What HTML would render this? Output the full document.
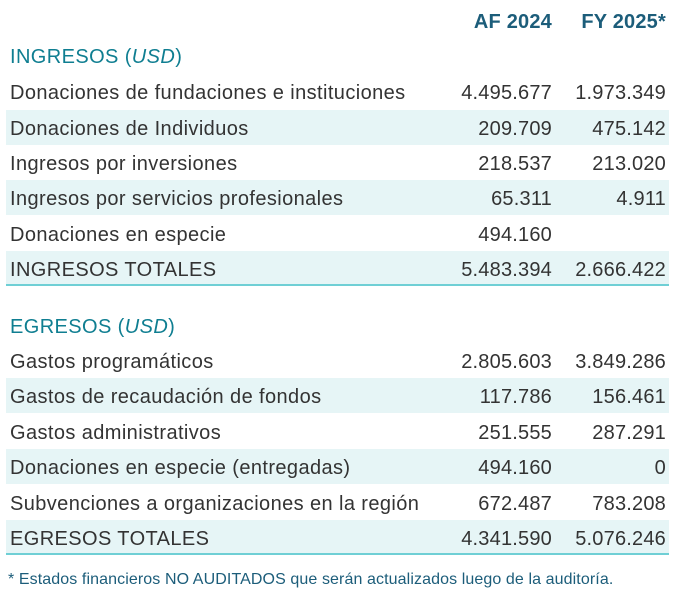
<!DOCTYPE html>
<html><head><meta charset="utf-8"><style>
body{margin:0;width:673px;height:600px;background:#fff;font-family:"Liberation Sans",sans-serif;position:relative;overflow:hidden;color:#333}
.r{position:absolute;left:6px;width:663px;height:35px;font-size:20px;line-height:35px;letter-spacing:0.4px}
.r span{top:2px}
.b{background:#e6f5f6}
.l{position:absolute;left:4px;white-space:nowrap}
.c1{position:absolute;right:117px;letter-spacing:0.2px}
.c2{position:absolute;right:3px;letter-spacing:0.2px}
.h{color:#0f7e91}
.hd{color:#1c5d7a;font-weight:bold}
.t{border-bottom:2px solid #6fcfd5;height:33px}
.fn{position:absolute;left:8px;top:571px;font-size:16px;color:#1c5d7a;letter-spacing:0.1px;white-space:nowrap}
</style></head><body>
<div class="r hd" style="top:3px"><span class="c1">AF 2024</span><span class="c2">FY 2025*</span></div>
<div class="r h" style="top:38px"><span class="l">INGRESOS (<i>USD</i>)</span></div>
<div class="r" style="top:74px"><span class="l">Donaciones de fundaciones e instituciones</span><span class="c1">4.495.677</span><span class="c2">1.973.349</span></div>
<div class="r b" style="top:110px"><span class="l">Donaciones de Individuos</span><span class="c1">209.709</span><span class="c2">475.142</span></div>
<div class="r" style="top:145px"><span class="l">Ingresos por inversiones</span><span class="c1">218.537</span><span class="c2">213.020</span></div>
<div class="r b" style="top:180px"><span class="l">Ingresos por servicios profesionales</span><span class="c1">65.311</span><span class="c2">4.911</span></div>
<div class="r" style="top:216px"><span class="l">Donaciones en especie</span><span class="c1">494.160</span></div>
<div class="r b t" style="top:251px"><span class="l">INGRESOS TOTALES</span><span class="c1">5.483.394</span><span class="c2">2.666.422</span></div>
<div class="r h" style="top:308px"><span class="l">EGRESOS (<i>USD</i>)</span></div>
<div class="r" style="top:343px"><span class="l">Gastos programáticos</span><span class="c1">2.805.603</span><span class="c2">3.849.286</span></div>
<div class="r b" style="top:378px"><span class="l">Gastos de recaudación de fondos</span><span class="c1">117.786</span><span class="c2">156.461</span></div>
<div class="r" style="top:414px"><span class="l">Gastos administrativos</span><span class="c1">251.555</span><span class="c2">287.291</span></div>
<div class="r b" style="top:449px"><span class="l">Donaciones en especie (entregadas)</span><span class="c1">494.160</span><span class="c2">0</span></div>
<div class="r" style="top:485px"><span class="l">Subvenciones a organizaciones en la región</span><span class="c1">672.487</span><span class="c2">783.208</span></div>
<div class="r b t" style="top:520px"><span class="l">EGRESOS TOTALES</span><span class="c1">4.341.590</span><span class="c2">5.076.246</span></div>
<div class="fn">* Estados financieros NO AUDITADOS que serán actualizados luego de la auditoría.</div>
</body></html>
